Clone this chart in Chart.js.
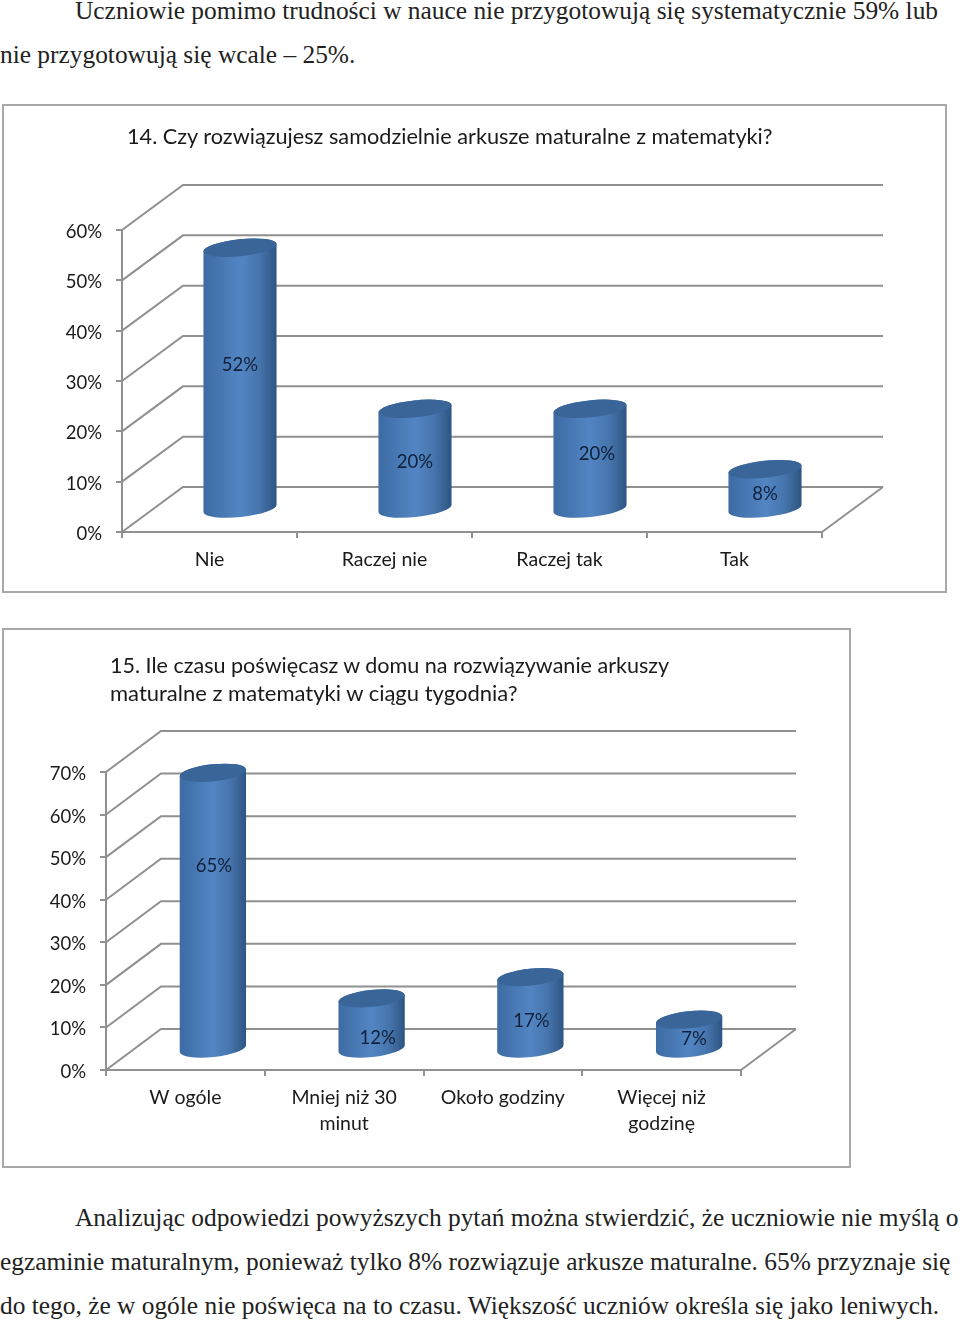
<!DOCTYPE html>
<html lang="pl">
<head>
<meta charset="utf-8">
<title>Wykresy</title>
<script src="https://cdn.jsdelivr.net/npm/chart.js@4"></script>
<style>
  html, body { margin: 0; padding: 0; background: #fff; }
  body { position: relative; width: 960px; height: 1322px; overflow: hidden; }
  .line { position: absolute; white-space: nowrap; font: 25.4px/30px "Liberation Serif", serif; color: #222; }
  .frame { position: absolute; box-sizing: border-box; border: 2px solid #a8a8a8; }
  .frame canvas { position: absolute; left: -1px; top: -1px; }
  .title { position: absolute; white-space: nowrap; font: 21.7px/28px Lato, sans-serif; color: #1a1a1a; }
</style>
</head>
<body>
<div class="line" style="left:75px;top:-5px">Uczniowie pomimo trudności w nauce nie przygotowują się systematycznie 59% lub</div>
<div class="line" style="left:0;top:39px">nie przygotowują się wcale – 25%.</div>

<div class="frame" style="left:2px;top:104px;width:945px;height:489px"><canvas id="chart14" width="943" height="487"></canvas></div>
<div class="title" style="left:127px;top:122px">14. Czy rozwiązujesz samodzielnie arkusze maturalne z matematyki?</div>

<div class="frame" style="left:2px;top:628px;width:849px;height:540px"><canvas id="chart15" width="847" height="538"></canvas></div>
<div class="title" style="left:110px;top:651px;font-size:21.55px">15. Ile czasu poświęcasz w domu na rozwiązywanie arkuszy</div>
<div class="title" style="left:110px;top:679px;font-size:22px">maturalne z matematyki w ciągu tygodnia?</div>

<div class="line" style="left:75px;top:1202px">Analizując odpowiedzi powyższych pytań można stwierdzić, że uczniowie nie myślą o</div>
<div class="line" style="left:0;top:1246px">egzaminie maturalnym, ponieważ tylko 8% rozwiązuje arkusze maturalne. 65% przyznaje się</div>
<div class="line" style="left:0;top:1290px">do tego, że w ogóle nie poświęca na to czasu. Większość uczniów określa się jako leniwych.</div>

<script>
const categories14 = ["Nie", "Raczej nie", "Raczej tak", "Tak"];
const values14 = [52, 20, 20, 8];
const categories15 = ["W ogóle", ["Mniej niż 30", "minut"], "Około godziny", ["Więcej niż", "godzinę"]];
const values15 = [65, 12, 17, 7];

const GRID_COLOR = "#909090";
const TEXT_COLOR = "#1a1a1a";
const FONT = { family: "Lato", size: 18.5 };
const CATEGORY_FONT = { family: "Lato", size: 19.5, lineHeight: 1.33 };

// Fake 3D: back wall lines and cylinders drawn from the chart's own scales
const cylinders = {
  id: "cylinders",
  beforeDatasetsDraw(chart, args, opts) {
    const { ctx, chartArea, scales } = chart;
    ctx.save();
    ctx.strokeStyle = GRID_COLOR;
    ctx.lineWidth = 2;
    scales.y.ticks.forEach((tick) => {
      const y = scales.y.getPixelForValue(tick.value);
      ctx.beginPath();
      ctx.moveTo(chartArea.left, y);
      ctx.lineTo(chartArea.left + opts.depthX, y + opts.depthY);
      ctx.lineTo(chartArea.right + opts.depthX, y + opts.depthY);
      ctx.stroke();
    });
    // floor edge on the right
    ctx.beginPath();
    ctx.moveTo(chartArea.right, chartArea.bottom);
    ctx.lineTo(chartArea.right + opts.depthX, chartArea.bottom + opts.depthY);
    ctx.stroke();
    ctx.restore();
  },
  afterDatasetsDraw(chart, args, opts) {
    const { ctx } = chart;
    const tilt = (-6 * Math.PI) / 180;
    chart.getDatasetMeta(0).data.forEach((bar, i) => {
      const cx = bar.x + opts.depthX / 2;
      const top = bar.y + opts.depthY / 2;
      const base = bar.base + opts.depthY / 2;
      const rx = bar.width / 2;
      const ry = opts.ry;

      const grad = ctx.createLinearGradient(cx - rx, 0, cx + rx, 0);
      grad.addColorStop(0, "#3d6ba3");
      grad.addColorStop(0.5, "#5285c3");
      grad.addColorStop(0.75, "#4776ae");
      grad.addColorStop(1, "#2e5582");

      ctx.save();
      ctx.beginPath();
      ctx.ellipse(cx, base, rx, ry, tilt, 0, Math.PI);
      ctx.ellipse(cx, top, rx, ry, tilt, Math.PI, 0);
      ctx.closePath();
      ctx.fillStyle = grad;
      ctx.fill();

      ctx.beginPath();
      ctx.ellipse(cx, top, rx, ry, tilt, 0, Math.PI * 2);
      ctx.fillStyle = "#3a6599";
      ctx.fill();

      ctx.fillStyle = "#10203a";
      ctx.font = `${FONT.size}px ${FONT.family}`;
      ctx.textAlign = "center";
      ctx.textBaseline = "middle";
      const [ox, oy] = opts.labelOffsets[i];
      ctx.fillText(chart.data.datasets[0].data[i] + "%", cx + ox, top + oy + 1);
      ctx.restore();
    });
  },
};

function drawChart(id, labels, values, maxValue, barShare, box) {
  return new Chart(document.getElementById(id), {
    type: "bar",
    data: {
      labels: labels,
      datasets: [{
        data: values,
        backgroundColor: "rgba(0,0,0,0)",
        barPercentage: barShare,
        categoryPercentage: 1,
      }],
    },
    plugins: [cylinders],
    options: {
      responsive: false,
      animation: false,
      devicePixelRatio: 1,
      layout: { padding: { top: box.top, right: box.right, left: 0, bottom: 0 } },
      plugins: {
        legend: { display: false },
        tooltip: { enabled: false },
        cylinders: {
          depthX: box.depthX,
          depthY: box.depthY,
          ry: 8.5,
          labelOffsets: box.labelOffsets,
        },
      },
      scales: {
        x: {
          grid: { drawOnChartArea: false, color: GRID_COLOR, tickLength: 6, lineWidth: 2 },
          border: { color: GRID_COLOR, width: 2 },
          ticks: { color: TEXT_COLOR, font: CATEGORY_FONT, padding: 9, maxRotation: 0, autoSkip: false },
          afterFit: (scale) => { scale.height = box.bottom; },
        },
        y: {
          min: 0,
          max: maxValue,
          grid: { drawOnChartArea: false, color: GRID_COLOR, tickLength: 6, lineWidth: 2 },
          border: { color: GRID_COLOR, width: 2 },
          ticks: { stepSize: 10, color: TEXT_COLOR, font: FONT, padding: 14, labelOffset: 2, callback: (v) => v + "%" },
          afterFit: (scale) => { scale.width = box.left; },
        },
      },
    },
  });
}

drawChart("chart14", categories14, values14, 60, 0.42, {
  left: 119, right: 124, top: 125, bottom: 60,
  depthX: 61, depthY: -45,
  labelOffsets: [[0, 116], [0, 52], [7, 44], [0, 24]],
});

drawChart("chart15", categories15, values15, 70, 0.42, {
  left: 103, right: 109, top: 143, bottom: 97,
  depthX: 55, depthY: -41,
  labelOffsets: [[1, 92], [6, 39], [1, 43], [5, 18]],
});
</script>
</body>
</html>
